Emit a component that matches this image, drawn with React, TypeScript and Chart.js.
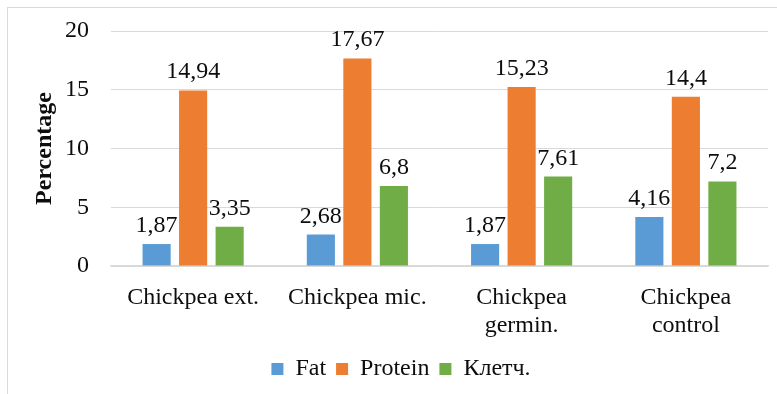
import React, { useEffect, useRef } from "react";
import { Chart, registerables } from "chart.js";

Chart.register(...registerables);

const categories: string[][] = [
  ["Chickpea ext."],
  ["Chickpea mic."],
  ["Chickpea", "germin."],
  ["Chickpea", "control"],
];
const fatValues = [1.87, 2.68, 1.87, 4.16];
const proteinValues = [14.94, 17.67, 15.23, 14.4];
const fiberValues = [3.35, 6.8, 7.61, 7.2];
const seriesNames = ["Fat", "Protein", "Клетч."];
const yTicks = [0, 5, 10, 15, 20];

const FONT = "'Liberation Serif', 'Times New Roman', serif";
const TEXT = "#0d0d0d";

const valueLabels = {
  id: "valueLabels",
  afterDatasetsDraw(chart: any) {
    const ctx = chart.ctx;
    ctx.save();
    ctx.font = `24px ${FONT}`;
    ctx.fillStyle = TEXT;
    ctx.textAlign = "center";
    ctx.textBaseline = "alphabetic";
    chart.data.datasets.forEach((ds: any, di: number) => {
      const meta = chart.getDatasetMeta(di);
      meta.data.forEach((el: any, i: number) => {
        const v = ds.data[i];
        ctx.fillText(String(v).replace(".", ","), el.x, el.y - 12);
      });
    });
    ctx.restore();
  },
};

export default function App() {
  const ref = useRef<HTMLCanvasElement>(null);
  useEffect(() => {
    if (!ref.current) return;
    const common = { categoryPercentage: 0.667, barPercentage: 0.77, borderWidth: 0 };
    const chart = new Chart(ref.current, {
      type: "bar",
      data: {
        labels: categories,
        datasets: [
          { label: seriesNames[0], data: fatValues, backgroundColor: "#5b9bd5", ...common },
          { label: seriesNames[1], data: proteinValues, backgroundColor: "#ed7d31", ...common },
          { label: seriesNames[2], data: fiberValues, backgroundColor: "#70ad47", ...common },
        ],
      },
      options: {
        animation: false,
        responsive: false,
        layout: { padding: { top: 23, left: 26, right: 1, bottom: 3 } },
        plugins: {
          tooltip: { enabled: false },
          legend: {
            position: "bottom",
            labels: {
              boxWidth: 12,
              boxHeight: 12,
              padding: 10,
              color: TEXT,
              font: { family: FONT, size: 24 },
            },
          },
        },
        scales: {
          x: {
            grid: { display: false, drawTicks: false },
            border: { display: true, color: "#d9d9d9", width: 1.5 },
            ticks: { color: TEXT, padding: 17, font: { family: FONT, size: 24 }, maxRotation: 0 },
            afterFit: (s: any) => {
              s.height = 81;
            },
          },
          y: {
            min: 0,
            max: 20,
            afterBuildTicks: (s: any) => {
              s.ticks = yTicks.map((v) => ({ value: v }));
            },
            grid: { color: "#d9d9d9", lineWidth: 1, drawTicks: false },
            border: { display: false },
            ticks: { color: TEXT, padding: 22, font: { family: FONT, size: 24 } },
            title: {
              display: true,
              text: "Percentage",
              color: TEXT,
              padding: { top: -4, bottom: 0 },
              font: { family: FONT, size: 24, weight: "bold" },
            },
            afterFit: (s: any) => {
              s.width = 77;
              s.paddingTop = 10;
              s.paddingBottom = 10;
            },
          },
        },
      },
      plugins: [valueLabels],
    });
    return () => chart.destroy();
  }, []);

  return (
    <div style={{ position: "absolute", left: 0, top: 0, width: 777, height: 394, overflow: "hidden", background: "#fff" }}>
      <div
        style={{
          position: "absolute",
          left: 7,
          top: 7,
          width: 780,
          height: 400,
          border: "1px solid #d9d9d9",
          boxSizing: "border-box",
        }}
      >
        <canvas ref={ref} width={761} height={386} style={{ position: "absolute", left: 0, top: 0 }} />
      </div>
    </div>
  );
}
